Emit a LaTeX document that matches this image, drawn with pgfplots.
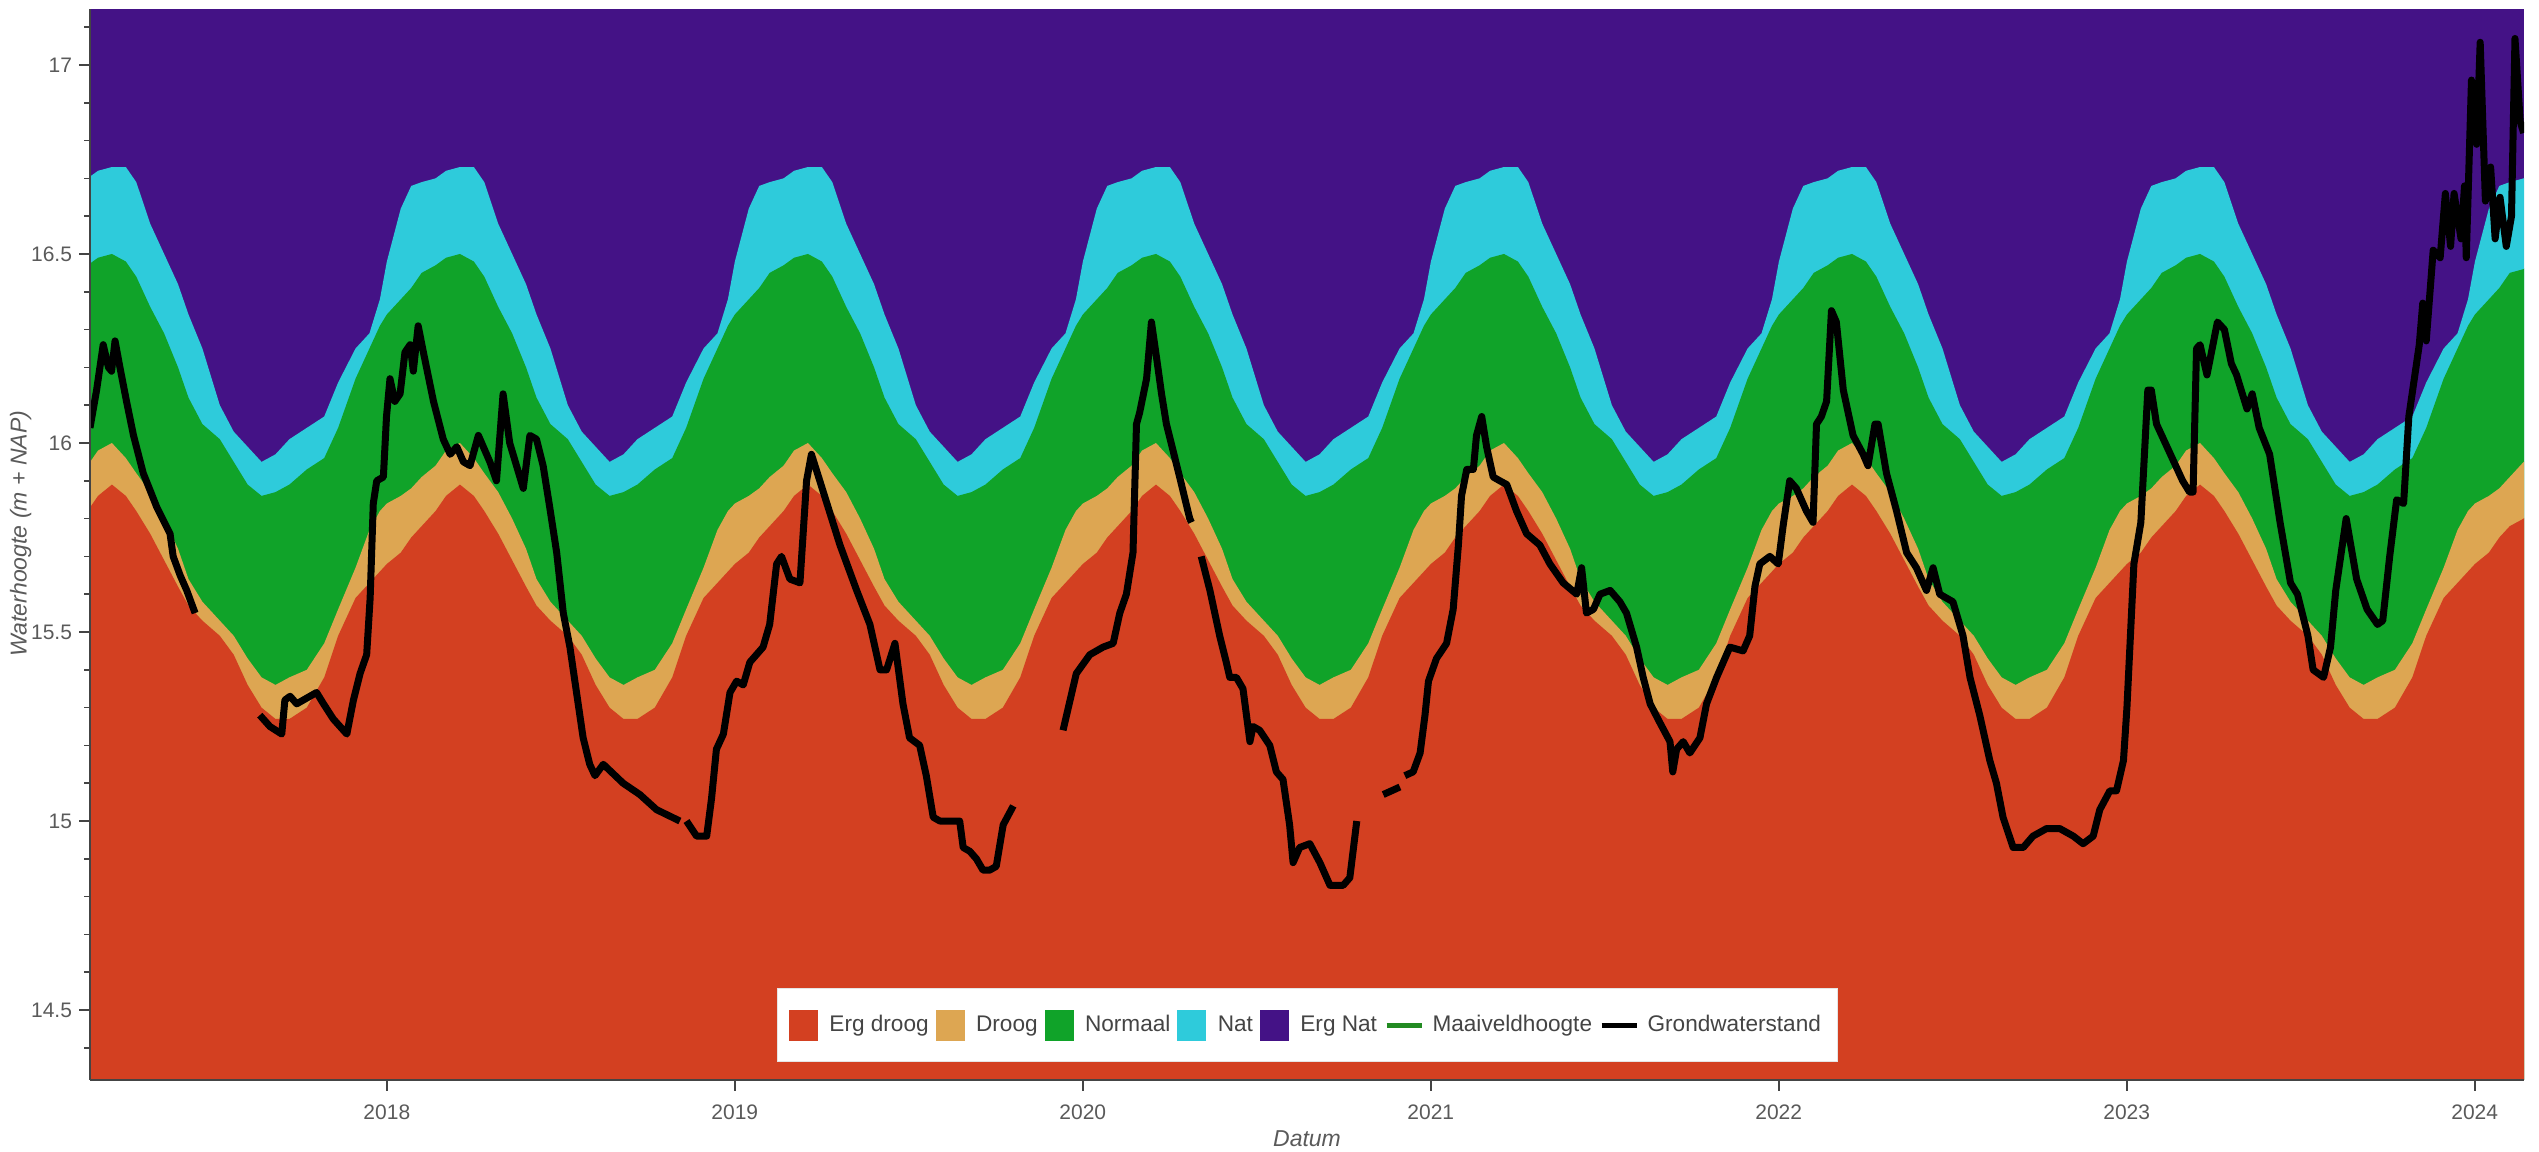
\documentclass[border=0pt]{standalone}
\usepackage{fontspec}
\setmainfont{Liberation Sans}
\usepackage{pgfplots}
\usepackage{pgfplotstable}
\pgfplotsset{compat=1.18}

\definecolor{ergdroog}{RGB}{211,64,33}
\definecolor{droog}{RGB}{221,166,82}
\definecolor{normaal}{RGB}{16,163,41}
\definecolor{nat}{RGB}{46,203,219}
\definecolor{ergnat}{RGB}{68,18,134}
\definecolor{maaiveld}{RGB}{34,139,34}
\definecolor{txtgray}{RGB}{90,90,90}
\definecolor{axgray}{RGB}{68,68,68}

% seizoensgrenzen: t, Erg droog/Droog, Droog/Normaal, Normaal/Nat, Nat/Erg Nat
\pgfplotstableread{
t b1 b2 b3 b4
2017.14 15.82 15.94 16.47 16.70
2017.17 15.86 15.98 16.49 16.72
2017.21 15.89 16.00 16.50 16.73
2017.25 15.86 15.96 16.48 16.73
2017.28 15.82 15.92 16.44 16.69
2017.32 15.76 15.87 16.36 16.58
2017.36 15.69 15.80 16.29 16.50
2017.40 15.62 15.72 16.20 16.42
2017.43 15.57 15.64 16.12 16.34
2017.47 15.53 15.58 16.05 16.25
2017.52 15.49 15.53 16.01 16.10
2017.56 15.44 15.49 15.95 16.03
2017.60 15.36 15.43 15.89 15.99
2017.64 15.30 15.38 15.86 15.95
2017.68 15.27 15.36 15.87 15.97
2017.72 15.27 15.38 15.89 16.01
2017.77 15.30 15.40 15.93 16.04
2017.82 15.38 15.47 15.96 16.07
2017.86 15.49 15.56 16.04 16.16
2017.91 15.59 15.67 16.17 16.25
2017.95 15.63 15.77 16.25 16.29
2017.98 15.66 15.82 16.31 16.38
2018.00 15.68 15.84 16.34 16.48
2018.04 15.71 15.86 16.38 16.62
2018.07 15.75 15.88 16.41 16.68
2018.10 15.78 15.91 16.45 16.69
2018.14 15.82 15.94 16.47 16.70
2018.17 15.86 15.98 16.49 16.72
2018.21 15.89 16.00 16.50 16.73
2018.25 15.86 15.96 16.48 16.73
2018.28 15.82 15.92 16.44 16.69
2018.32 15.76 15.87 16.36 16.58
2018.36 15.69 15.80 16.29 16.50
2018.40 15.62 15.72 16.20 16.42
2018.43 15.57 15.64 16.12 16.34
2018.47 15.53 15.58 16.05 16.25
2018.52 15.49 15.53 16.01 16.10
2018.56 15.44 15.49 15.95 16.03
2018.60 15.36 15.43 15.89 15.99
2018.64 15.30 15.38 15.86 15.95
2018.68 15.27 15.36 15.87 15.97
2018.72 15.27 15.38 15.89 16.01
2018.77 15.30 15.40 15.93 16.04
2018.82 15.38 15.47 15.96 16.07
2018.86 15.49 15.56 16.04 16.16
2018.91 15.59 15.67 16.17 16.25
2018.95 15.63 15.77 16.25 16.29
2018.98 15.66 15.82 16.31 16.38
2019.00 15.68 15.84 16.34 16.48
2019.04 15.71 15.86 16.38 16.62
2019.07 15.75 15.88 16.41 16.68
2019.10 15.78 15.91 16.45 16.69
2019.14 15.82 15.94 16.47 16.70
2019.17 15.86 15.98 16.49 16.72
2019.21 15.89 16.00 16.50 16.73
2019.25 15.86 15.96 16.48 16.73
2019.28 15.82 15.92 16.44 16.69
2019.32 15.76 15.87 16.36 16.58
2019.36 15.69 15.80 16.29 16.50
2019.40 15.62 15.72 16.20 16.42
2019.43 15.57 15.64 16.12 16.34
2019.47 15.53 15.58 16.05 16.25
2019.52 15.49 15.53 16.01 16.10
2019.56 15.44 15.49 15.95 16.03
2019.60 15.36 15.43 15.89 15.99
2019.64 15.30 15.38 15.86 15.95
2019.68 15.27 15.36 15.87 15.97
2019.72 15.27 15.38 15.89 16.01
2019.77 15.30 15.40 15.93 16.04
2019.82 15.38 15.47 15.96 16.07
2019.86 15.49 15.56 16.04 16.16
2019.91 15.59 15.67 16.17 16.25
2019.95 15.63 15.77 16.25 16.29
2019.98 15.66 15.82 16.31 16.38
2020.00 15.68 15.84 16.34 16.48
2020.04 15.71 15.86 16.38 16.62
2020.07 15.75 15.88 16.41 16.68
2020.10 15.78 15.91 16.45 16.69
2020.14 15.82 15.94 16.47 16.70
2020.17 15.86 15.98 16.49 16.72
2020.21 15.89 16.00 16.50 16.73
2020.25 15.86 15.96 16.48 16.73
2020.28 15.82 15.92 16.44 16.69
2020.32 15.76 15.87 16.36 16.58
2020.36 15.69 15.80 16.29 16.50
2020.40 15.62 15.72 16.20 16.42
2020.43 15.57 15.64 16.12 16.34
2020.47 15.53 15.58 16.05 16.25
2020.52 15.49 15.53 16.01 16.10
2020.56 15.44 15.49 15.95 16.03
2020.60 15.36 15.43 15.89 15.99
2020.64 15.30 15.38 15.86 15.95
2020.68 15.27 15.36 15.87 15.97
2020.72 15.27 15.38 15.89 16.01
2020.77 15.30 15.40 15.93 16.04
2020.82 15.38 15.47 15.96 16.07
2020.86 15.49 15.56 16.04 16.16
2020.91 15.59 15.67 16.17 16.25
2020.95 15.63 15.77 16.25 16.29
2020.98 15.66 15.82 16.31 16.38
2021.00 15.68 15.84 16.34 16.48
2021.04 15.71 15.86 16.38 16.62
2021.07 15.75 15.88 16.41 16.68
2021.10 15.78 15.91 16.45 16.69
2021.14 15.82 15.94 16.47 16.70
2021.17 15.86 15.98 16.49 16.72
2021.21 15.89 16.00 16.50 16.73
2021.25 15.86 15.96 16.48 16.73
2021.28 15.82 15.92 16.44 16.69
2021.32 15.76 15.87 16.36 16.58
2021.36 15.69 15.80 16.29 16.50
2021.40 15.62 15.72 16.20 16.42
2021.43 15.57 15.64 16.12 16.34
2021.47 15.53 15.58 16.05 16.25
2021.52 15.49 15.53 16.01 16.10
2021.56 15.44 15.49 15.95 16.03
2021.60 15.36 15.43 15.89 15.99
2021.64 15.30 15.38 15.86 15.95
2021.68 15.27 15.36 15.87 15.97
2021.72 15.27 15.38 15.89 16.01
2021.77 15.30 15.40 15.93 16.04
2021.82 15.38 15.47 15.96 16.07
2021.86 15.49 15.56 16.04 16.16
2021.91 15.59 15.67 16.17 16.25
2021.95 15.63 15.77 16.25 16.29
2021.98 15.66 15.82 16.31 16.38
2022.00 15.68 15.84 16.34 16.48
2022.04 15.71 15.86 16.38 16.62
2022.07 15.75 15.88 16.41 16.68
2022.10 15.78 15.91 16.45 16.69
2022.14 15.82 15.94 16.47 16.70
2022.17 15.86 15.98 16.49 16.72
2022.21 15.89 16.00 16.50 16.73
2022.25 15.86 15.96 16.48 16.73
2022.28 15.82 15.92 16.44 16.69
2022.32 15.76 15.87 16.36 16.58
2022.36 15.69 15.80 16.29 16.50
2022.40 15.62 15.72 16.20 16.42
2022.43 15.57 15.64 16.12 16.34
2022.47 15.53 15.58 16.05 16.25
2022.52 15.49 15.53 16.01 16.10
2022.56 15.44 15.49 15.95 16.03
2022.60 15.36 15.43 15.89 15.99
2022.64 15.30 15.38 15.86 15.95
2022.68 15.27 15.36 15.87 15.97
2022.72 15.27 15.38 15.89 16.01
2022.77 15.30 15.40 15.93 16.04
2022.82 15.38 15.47 15.96 16.07
2022.86 15.49 15.56 16.04 16.16
2022.91 15.59 15.67 16.17 16.25
2022.95 15.63 15.77 16.25 16.29
2022.98 15.66 15.82 16.31 16.38
2023.00 15.68 15.84 16.34 16.48
2023.04 15.71 15.86 16.38 16.62
2023.07 15.75 15.88 16.41 16.68
2023.10 15.78 15.91 16.45 16.69
2023.14 15.82 15.94 16.47 16.70
2023.17 15.86 15.98 16.49 16.72
2023.21 15.89 16.00 16.50 16.73
2023.25 15.86 15.96 16.48 16.73
2023.28 15.82 15.92 16.44 16.69
2023.32 15.76 15.87 16.36 16.58
2023.36 15.69 15.80 16.29 16.50
2023.40 15.62 15.72 16.20 16.42
2023.43 15.57 15.64 16.12 16.34
2023.47 15.53 15.58 16.05 16.25
2023.52 15.49 15.53 16.01 16.10
2023.56 15.44 15.49 15.95 16.03
2023.60 15.36 15.43 15.89 15.99
2023.64 15.30 15.38 15.86 15.95
2023.68 15.27 15.36 15.87 15.97
2023.72 15.27 15.38 15.89 16.01
2023.77 15.30 15.40 15.93 16.04
2023.82 15.38 15.47 15.96 16.07
2023.86 15.49 15.56 16.04 16.16
2023.91 15.59 15.67 16.17 16.25
2023.95 15.63 15.77 16.25 16.29
2023.98 15.66 15.82 16.31 16.38
2024.00 15.68 15.84 16.34 16.48
2024.04 15.71 15.86 16.38 16.62
2024.07 15.75 15.88 16.41 16.68
2024.10 15.78 15.91 16.45 16.69
2024.14 15.80 15.95 16.46 16.70
2024.17 15.84 15.98 16.49 16.72
}\bands

\begin{document}
\begin{tikzpicture}
\begin{axis}[
    width=1217pt, height=535.5pt, scale only axis,
    xmin=2017.147, xmax=2024.141,
    ymin=14.315, ymax=17.148,
    axis on top,
    axis background/.style={fill=ergnat},
    axis x line*=bottom, axis y line*=left,
    axis line style={axgray, line width=0.8pt},
    tick align=outside,
    major tick length=5.5pt, minor tick length=3pt,
    every tick/.style={axgray, line width=0.8pt},
    xtick={2018,2019,...,2024},
    ytick={14.5,15,15.5,16,16.5,17},
    minor ytick={14.4,14.5,...,17.1},
    /pgf/number format/1000 sep={},
    /pgf/number format/assume math mode=true,
    ticklabel style={font=\fontsize{10.5}{12}\selectfont, text=txtgray},
    xticklabel style={yshift=-3.5pt},
    xlabel={Datum},
    ylabel={Waterhoogte (m + NAP)},
    label style={font=\fontsize{11.5}{13}\selectfont\itshape, text=txtgray},
    x label style={at={(axis description cs:0.5,-0.055)}, anchor=center},
    y label style={at={(axis description cs:-0.0285,0.51)}, anchor=center},
    unbounded coords=jump,
    legend columns=-1,
    legend cell align=left,
    legend style={
        at={(axis description cs:0.5,0.0168)}, anchor=south,
        draw={rgb,255:red,229;green,229;blue,229}, fill=white,
        font=\fontsize{11.3}{13}\selectfont, text=axgray,
        inner xsep=6pt, inner ysep=10.5pt,
        /tikz/every even column/.append style={column sep=1.5pt},
    },
]

\addplot[fill=nat, draw=none, forget plot] table[x=t, y=b4] {\bands} \closedcycle;
\addplot[fill=normaal, draw=none, forget plot] table[x=t, y=b3] {\bands} \closedcycle;
\addplot[fill=droog, draw=none, forget plot] table[x=t, y=b2] {\bands} \closedcycle;
\addplot[fill=ergdroog, draw=none, forget plot] table[x=t, y=b1] {\bands} \closedcycle;

% grondwaterstand, gaten als nan
\addplot[black, line width=3.5pt, line join=round, forget plot] coordinates {
(2017.147,16.04) (2017.166,16.14) (2017.185,16.26) (2017.200,16.20) (2017.209,16.19)
(2017.219,16.27) (2017.233,16.20) (2017.252,16.11) (2017.272,16.02) (2017.300,15.92)
(2017.339,15.83) (2017.377,15.76) (2017.386,15.70) (2017.406,15.65) (2017.425,15.61)
(2017.449,15.55)
(2017.500,nan)
(2017.635,15.28) (2017.664,15.25) (2017.698,15.23) (2017.707,15.32) (2017.722,15.33)
(2017.741,15.31) (2017.760,15.32) (2017.798,15.34) (2017.818,15.31) (2017.846,15.27)
(2017.885,15.23) (2017.904,15.32) (2017.923,15.39) (2017.942,15.44) (2017.952,15.59)
(2017.961,15.84) (2017.971,15.90) (2017.990,15.91) (2017.999,16.07) (2018.009,16.17)
(2018.023,16.11) (2018.038,16.13) (2018.052,16.24) (2018.067,16.26) (2018.076,16.19)
(2018.090,16.31) (2018.105,16.24) (2018.134,16.11) (2018.162,16.01) (2018.182,15.97)
(2018.201,15.99) (2018.220,15.95) (2018.239,15.94) (2018.263,16.02) (2018.296,15.95)
(2018.315,15.90) (2018.334,16.13) (2018.353,16.00) (2018.392,15.88) (2018.411,16.02)
(2018.430,16.01) (2018.449,15.94) (2018.468,15.83) (2018.488,15.71) (2018.507,15.55)
(2018.526,15.46) (2018.545,15.34) (2018.564,15.22) (2018.583,15.15) (2018.598,15.12)
(2018.622,15.15) (2018.679,15.10) (2018.727,15.07) (2018.775,15.03) (2018.842,15.00)
(2018.852,nan)
(2018.861,15.00) (2018.890,14.96) (2018.919,14.96) (2018.933,15.06) (2018.947,15.19)
(2018.967,15.23) (2018.986,15.34) (2019.005,15.37) (2019.024,15.36) (2019.043,15.42)
(2019.081,15.46) (2019.100,15.52) (2019.120,15.68) (2019.134,15.70) (2019.158,15.64)
(2019.187,15.63) (2019.206,15.90) (2019.220,15.97) (2019.244,15.90) (2019.302,15.73)
(2019.350,15.61) (2019.388,15.52) (2019.417,15.40) (2019.436,15.40) (2019.460,15.47)
(2019.483,15.31) (2019.502,15.22) (2019.531,15.20) (2019.550,15.12) (2019.570,15.01)
(2019.589,15.00) (2019.617,15.00) (2019.646,15.00) (2019.656,14.93) (2019.675,14.92)
(2019.694,14.90) (2019.713,14.87) (2019.732,14.87) (2019.751,14.88) (2019.771,14.99)
(2019.800,15.04)
(2019.850,nan)
(2019.943,15.24) (2019.981,15.39) (2020.020,15.44) (2020.058,15.46) (2020.087,15.47)
(2020.106,15.55) (2020.125,15.60) (2020.144,15.71) (2020.154,16.05) (2020.163,16.08)
(2020.183,16.17) (2020.197,16.32) (2020.211,16.23) (2020.226,16.13) (2020.240,16.05)
(2020.259,15.98) (2020.278,15.91) (2020.307,15.80) (2020.312,15.79)
(2020.325,nan)
(2020.340,15.70) (2020.365,15.61) (2020.393,15.49) (2020.412,15.42) (2020.422,15.38)
(2020.441,15.38) (2020.460,15.35) (2020.480,15.21) (2020.489,15.25) (2020.508,15.24)
(2020.537,15.20) (2020.556,15.13) (2020.575,15.11) (2020.594,14.99) (2020.604,14.89)
(2020.623,14.93) (2020.652,14.94) (2020.681,14.89) (2020.710,14.83) (2020.748,14.83)
(2020.767,14.85) (2020.787,15.00)
(2020.820,nan)
(2020.863,15.07) (2020.911,15.09)
(2020.918,nan)
(2020.925,15.12) (2020.949,15.13) (2020.969,15.18) (2020.983,15.28) (2020.993,15.37)
(2021.016,15.43) (2021.045,15.47) (2021.064,15.56) (2021.079,15.73) (2021.088,15.86)
(2021.103,15.93) (2021.122,15.93) (2021.131,16.02) (2021.146,16.07) (2021.160,15.99)
(2021.179,15.91) (2021.198,15.90) (2021.218,15.89) (2021.246,15.82) (2021.275,15.76)
(2021.313,15.73) (2021.342,15.68) (2021.380,15.63) (2021.419,15.60) (2021.433,15.67)
(2021.447,15.55) (2021.467,15.56) (2021.486,15.60) (2021.515,15.61) (2021.543,15.58)
(2021.562,15.55) (2021.591,15.46) (2021.610,15.38) (2021.630,15.31) (2021.658,15.26)
(2021.687,15.21) (2021.695,15.13) (2021.706,15.19) (2021.725,15.21) (2021.744,15.18)
(2021.773,15.22) (2021.792,15.31) (2021.821,15.38) (2021.859,15.46) (2021.897,15.45)
(2021.916,15.49) (2021.931,15.62) (2021.945,15.68) (2021.974,15.70) (2021.998,15.68)
(2022.012,15.78) (2022.031,15.90) (2022.050,15.88) (2022.079,15.82) (2022.098,15.79)
(2022.108,16.05) (2022.122,16.07) (2022.137,16.11) (2022.151,16.35) (2022.165,16.32)
(2022.185,16.14) (2022.213,16.02) (2022.242,15.97) (2022.256,15.94) (2022.276,16.05)
(2022.285,16.05) (2022.309,15.92) (2022.338,15.82) (2022.367,15.71) (2022.395,15.67)
(2022.424,15.61) (2022.443,15.67) (2022.462,15.60) (2022.500,15.58) (2022.529,15.49)
(2022.549,15.38) (2022.577,15.28) (2022.606,15.16) (2022.625,15.10) (2022.644,15.01)
(2022.673,14.93) (2022.702,14.93) (2022.730,14.96) (2022.769,14.98) (2022.807,14.98)
(2022.846,14.96) (2022.874,14.94) (2022.903,14.96) (2022.922,15.03) (2022.951,15.08)
(2022.970,15.08) (2022.990,15.16) (2023.000,15.30) (2023.020,15.68) (2023.040,15.79)
(2023.060,16.14) (2023.070,16.14) (2023.085,16.05) (2023.125,15.97) (2023.160,15.90)
(2023.180,15.87) (2023.190,15.87) (2023.200,16.25) (2023.210,16.26) (2023.230,16.18)
(2023.260,16.32) (2023.280,16.30) (2023.300,16.21) (2023.315,16.18) (2023.345,16.09)
(2023.360,16.13) (2023.380,16.04) (2023.410,15.97) (2023.440,15.79) (2023.470,15.63)
(2023.490,15.60) (2023.520,15.49) (2023.535,15.40) (2023.565,15.38) (2023.585,15.46)
(2023.600,15.61) (2023.630,15.80) (2023.660,15.64) (2023.690,15.56) (2023.720,15.52)
(2023.735,15.53) (2023.755,15.70) (2023.775,15.85) (2023.795,15.84) (2023.810,16.07)
(2023.840,16.26) (2023.850,16.37) (2023.860,16.27) (2023.880,16.51) (2023.900,16.49)
(2023.915,16.66) (2023.930,16.52) (2023.940,16.66) (2023.960,16.54) (2023.970,16.68)
(2023.975,16.49) (2023.990,16.96) (2024.005,16.79) (2024.015,17.06) (2024.030,16.64)
(2024.045,16.73) (2024.058,16.54) (2024.072,16.65) (2024.090,16.52) (2024.105,16.60)
(2024.115,17.07) (2024.130,16.85) (2024.140,16.82)
};

\addlegendimage{legend image code/.code={\path[draw=none,fill=none] (0pt,0pt) -- (18pt,0pt); \fill[ergdroog] (0pt,-7.5pt) rectangle (14pt,7.5pt);}}
\addlegendentry{Erg droog}
\addlegendimage{legend image code/.code={\path[draw=none,fill=none] (0pt,0pt) -- (18pt,0pt); \fill[droog] (0pt,-7.5pt) rectangle (14pt,7.5pt);}}
\addlegendentry{Droog}
\addlegendimage{legend image code/.code={\path[draw=none,fill=none] (0pt,0pt) -- (18pt,0pt); \fill[normaal] (0pt,-7.5pt) rectangle (14pt,7.5pt);}}
\addlegendentry{Normaal}
\addlegendimage{legend image code/.code={\path[draw=none,fill=none] (0pt,0pt) -- (18pt,0pt); \fill[nat] (0pt,-7.5pt) rectangle (14pt,7.5pt);}}
\addlegendentry{Nat}
\addlegendimage{legend image code/.code={\path[draw=none,fill=none] (0pt,0pt) -- (18pt,0pt); \fill[ergnat] (0pt,-7.5pt) rectangle (14pt,7.5pt);}}
\addlegendentry{Erg Nat}
\addlegendimage{legend image code/.code={\path[draw=none,fill=none] (0pt,0pt) -- (21pt,0pt); \draw[maaiveld, line width=2.5pt] (0pt,0pt) -- (17.5pt,0pt);}}
\addlegendentry{Maaiveldhoogte}
\addlegendimage{legend image code/.code={\path[draw=none,fill=none] (0pt,0pt) -- (21pt,0pt); \draw[black, line width=2.5pt] (0pt,0pt) -- (17.5pt,0pt);}}
\addlegendentry{Grondwaterstand}

\coordinate (sw) at (rel axis cs:0,0);
\coordinate (ne) at (rel axis cs:1,1);
\end{axis}
\pgfresetboundingbox
\useasboundingbox ([shift={(-45pt,-36pt)}]sw) rectangle ([shift={(7.5pt,4.5pt)}]ne);
\end{tikzpicture}
\end{document}
